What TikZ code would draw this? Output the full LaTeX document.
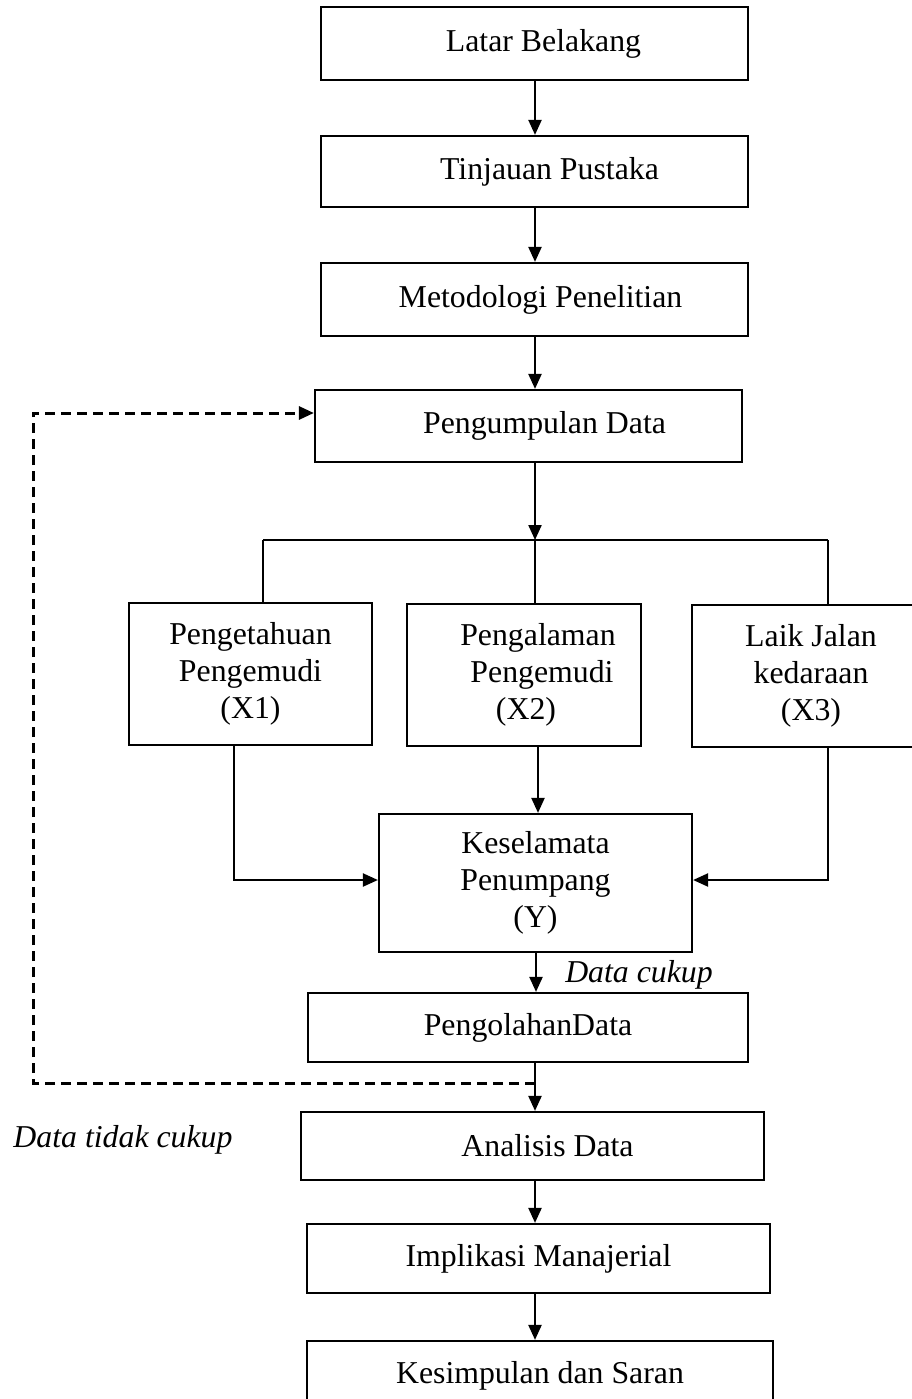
\documentclass[tikz,border=0pt]{standalone}
\usepackage{fontspec}
\setmainfont{Liberation Serif}
\usetikzlibrary{arrows.meta}
\begin{document}
\begin{tikzpicture}[x=1pt,y=-1pt,
  box/.style={draw,line width=2.2pt,rectangle,inner sep=0pt,align=center,font=\fontsize{31.8}{37}\selectfont},
  arr/.style={line width=2.2pt,-{Triangle[length=15pt,width=13pt]}},
  ln/.style={line width=2.2pt},
  lbl/.style={font=\fontsize{31.8}{37}\selectfont\itshape,inner sep=0pt},
  dsh/.style={line width=3pt,dash pattern=on 10pt off 6pt,-{Triangle[length=15pt,width=13pt]}}]
\useasboundingbox (0,0) rectangle (912,1399);

\node[box,minimum width=427pt,minimum height=73pt] (lb) at (534.5,43.5) {\hspace*{18pt}Latar Belakang};
\node[box,minimum width=427pt,minimum height=71pt] (tp) at (534.5,171.5) {\hspace*{30pt}Tinjauan Pustaka};
\node[box,minimum width=427pt,minimum height=73pt] (mp) at (534.5,299.5) {\hspace*{12pt}Metodologi Penelitian};
\node[box,minimum width=427pt,minimum height=72pt] (pd) at (528.5,426) {\hspace*{32pt}Pengumpulan Data};

\node[box,minimum width=243pt,minimum height=142pt] (x1) at (250.5,674) {Pengetahuan\\Pengemudi\\(X1)};
\node[box,minimum width=234pt,minimum height=142pt] (x2) at (524,675) {\hspace*{28pt}Pengalaman\\\hspace*{36pt}Pengemudi\\\hspace*{4pt}(X2)};
\node[box,minimum width=238pt,minimum height=142pt] (x3) at (811,676) {Laik Jalan\\kedaraan\\(X3)};

\node[box,minimum width=313pt,minimum height=138pt] (yy) at (535.5,883) {Keselamata\\Penumpang\\(Y)};
\node[box,minimum width=440pt,minimum height=69pt] (pol) at (528,1027.5) {PengolahanData};
\node[box,minimum width=463pt,minimum height=68pt] (an) at (532.5,1146) {\hspace*{30pt}Analisis Data};
\node[box,minimum width=463pt,minimum height=69pt] (im) at (538.5,1258.5) {Implikasi Manajerial};
\node[box,minimum width=466pt,minimum height=70pt] (ks) at (540,1376) {Kesimpulan dan Saran};

\node[lbl] (dc) at (639,975) {Data cukup};
\node[lbl] (dtc) at (123,1140) {Data tidak cukup};

% main chain
\coordinate (ax) at (535,0);
\draw[arr] (ax |- lb.south) -- (ax |- tp.north);
\draw[arr] (ax |- tp.south) -- (ax |- mp.north);
\draw[arr] (ax |- mp.south) -- (ax |- pd.north);

% split
\coordinate (j) at (535,540);
\coordinate (jl) at (263,540);
\coordinate (jr) at (828,540);
\draw[arr] (j |- pd.south) -- (j);
\draw[ln] (jl) -- (jr);
\draw[ln] (jl) -- (jl |- x1.north);
\draw[ln] (j) -- (j |- x2.north);
\draw[ln] (jr) -- (jr |- x3.north);

% into Y
\coordinate (c1) at (234,880);
\coordinate (c3) at (828,880);
\coordinate (a2) at (538,0);
\draw[arr] (c1 |- x1.south) -- (c1) -- (c1 -| yy.west);
\draw[arr] (c3 |- x3.south) -- (c3) -- (c3 -| yy.east);
\draw[arr] (a2 |- x2.south) -- (a2 |- yy.north);

% lower chain
\coordinate (bx) at (536,0);
\draw[arr] (bx |- yy.south) -- (bx |- pol.north);
\draw[arr] (ax |- pol.south) -- (ax |- an.north);
\draw[arr] (ax |- an.south) -- (ax |- im.north);
\draw[arr] (ax |- im.south) -- (ax |- ks.north);

% feedback loop
\coordinate (d0) at (535,1083);
\coordinate (dA) at (33,1083);
\coordinate (dB) at (33,413);
\draw[dsh] (d0) -- (dA) -- (dB) -- (dB -| pd.west);
\end{tikzpicture}
\end{document}
